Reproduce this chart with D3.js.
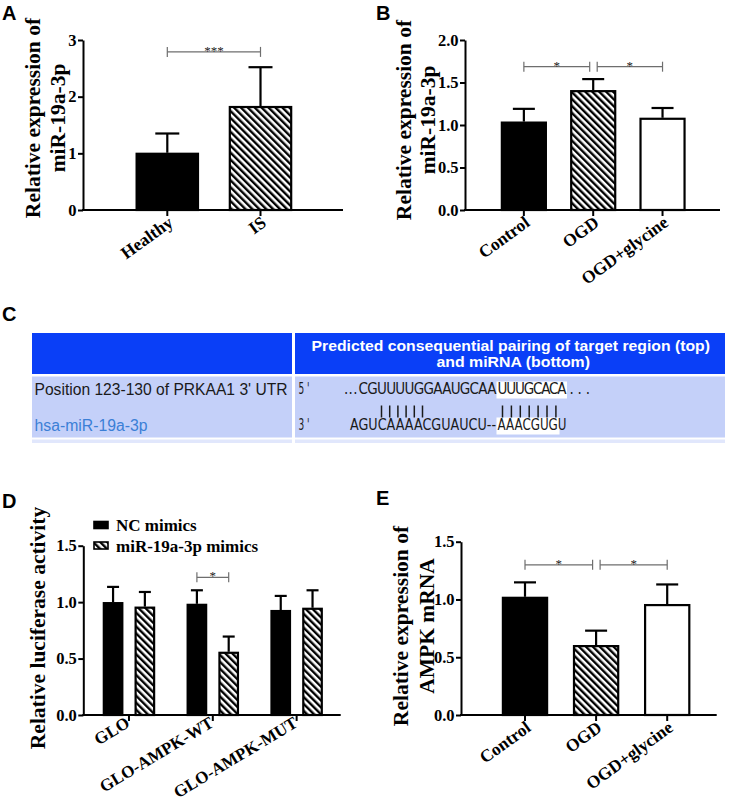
<!DOCTYPE html>
<html>
<head>
<meta charset="utf-8">
<script src="https://cdn.jsdelivr.net/npm/d3@7"></script>
<style>
  html, body { margin: 0; padding: 0; background: #fff; }
  svg { display: block; }
</style>
</head>
<body>
<svg id="fig" width="750" height="805"></svg>
<script>
// ---------------- DATA ----------------
// Panel A
const catsA = ["Healthy", "IS"];
const valsA = [1.01, 1.835];
const errA = [0.34, 0.685];
const ticksA = [0, 1, 2, 3];
const sigA = [{ from: 0, to: 1, level: 2.79, label: "***" }];

// Panel B
const catsB = ["Control", "OGD", "OGD+glycine"];
const valsB = [1.04, 1.41, 1.085];
const errB = [0.15, 0.13, 0.115];
const ticksB = [0, 0.5, 1.0, 1.5, 2.0];
const sigB = [{ from: 0, to: 1, level: 1.686, label: "*" }, { from: 1, to: 2, level: 1.686, label: "*" }];

// Panel C (TargetScan table)
const tableHeader = ["Predicted consequential pairing of target region (top)", "and miRNA (bottom)"];
const tableRowLabel = "Position 123-130 of PRKAA1 3' UTR";
const tableMirna = "hsa-miR-19a-3p";
const seqTop = ["...", "CGUUUUGGAAUGCAA", "UUUGCACA", "..."];
const seqBottom = ["AGUCAAAACGUAUCU--", "AAACGUGU"];
const pairGroups = [6, 7];

// Panel D
const catsD = ["GLO", "GLO-AMPK-WT", "GLO-AMPK-MUT"];
const seriesD = ["NC mimics", "miR-19a-3p mimics"];
const valsD_NC = [1.00, 0.985, 0.93];
const errD_NC = [0.135, 0.12, 0.125];
const valsD_mim = [0.96, 0.56, 0.95];
const errD_mim = [0.13, 0.135, 0.155];
const ticksD = [0, 0.5, 1.0, 1.5];
const sigD = [{ cat: 1, level: 1.22, label: "*" }];

// Panel E
const catsE = ["Control", "OGD", "OGD+glycine"];
const valsE = [1.023, 0.605, 0.96];
const errE = [0.125, 0.125, 0.17];
const ticksE = [0, 0.5, 1.0, 1.5];
const sigE = [{ from: 0, to: 1, level: 1.30, label: "*" }, { from: 1, to: 2, level: 1.30, label: "*" }];

// ---------------- STYLE ----------------
const SERIF = "'Liberation Serif','Times New Roman',serif";
const SANS = "'Liberation Sans',Arial,sans-serif";
const svg = d3.select("#fig");

const defs = svg.append("defs");
defs.append("pattern")
  .attr("id", "hatch")
  .attr("patternUnits", "userSpaceOnUse")
  .attr("width", 4.9).attr("height", 4.9)
  .attr("patternTransform", "rotate(-45)")
  .call(p => {
    p.append("rect").attr("width", 4.9).attr("height", 4.9).attr("fill", "#fff");
    p.append("line").attr("x1", 1.2).attr("y1", 0).attr("x2", 1.2).attr("y2", 4.9)
      .attr("stroke", "#000").attr("stroke-width", 2.4);
  });

function fillFor(kind) {
  return kind === "black" ? "#000" : kind === "hatch" ? "url(#hatch)" : "#fff";
}

function panelLetter(t, x, y) {
  svg.append("text").attr("x", x).attr("y", y).text(t)
    .attr("font-family", SANS).attr("font-weight", "bold").attr("font-size", 20).attr("fill", "#000");
}

function yAxis(g, y, x0, ticks, fmt) {
  const ax = d3.axisLeft(y).tickValues(ticks).tickFormat(fmt).tickSize(5).tickPadding(1.5).tickSizeOuter(0);
  const a = g.append("g").attr("transform", `translate(${x0},0)`).call(ax);
  a.select(".domain").attr("stroke", "#000").attr("stroke-width", 2);
  a.selectAll(".tick line").attr("stroke", "#000").attr("stroke-width", 2);
  a.selectAll(".tick text").attr("font-family", SERIF).attr("font-weight", "bold")
    .attr("font-size", 16.5).attr("fill", "#000");
  return a;
}

function xAxis(g, xPos, cats, y0, x0, x1, fs, ang, dx, dy) {
  g.append("line").attr("x1", x0 - 1).attr("x2", x1).attr("y1", y0).attr("y2", y0)
    .attr("stroke", "#000").attr("stroke-width", 2);
  cats.forEach(c => {
    const cx = xPos(c);
    g.append("line").attr("x1", cx).attr("x2", cx).attr("y1", y0).attr("y2", y0 + 6)
      .attr("stroke", "#000").attr("stroke-width", 2);
    g.append("text").text(c)
      .attr("transform", `translate(${cx + dx},${y0 + dy}) rotate(${ang})`)
      .attr("text-anchor", "end")
      .attr("font-family", SERIF).attr("font-weight", "bold").attr("font-size", fs).attr("fill", "#000");
  });
}

function yTitle(g, lines, baselines, cy) {
  lines.forEach((ln, i) => {
    g.append("text").text(ln)
      .attr("transform", `translate(${baselines[i]},${cy}) rotate(-90)`)
      .attr("text-anchor", "middle")
      .attr("font-family", SERIF).attr("font-weight", "bold").attr("font-size", 21.5).attr("fill", "#000");
  });
}

function bracket(g, xa, xb, yy, label) {
  const col = "#6e6e6e";
  g.append("line").attr("x1", xa).attr("x2", xb).attr("y1", yy).attr("y2", yy).attr("stroke", col).attr("stroke-width", 1.2);
  [xa, xb].forEach(xx => g.append("line").attr("x1", xx).attr("x2", xx).attr("y1", yy - 5).attr("y2", yy + 5)
    .attr("stroke", col).attr("stroke-width", 1.2));
  g.append("text").text(label).attr("x", (xa + xb) / 2).attr("y", yy + 3)
    .attr("text-anchor", "middle").attr("font-family", SERIF).attr("font-size", 13).attr("fill", "#222");
}

function bar(g, x, w, y, v, e, fill, cap) {
  const cx = x + w / 2;
  g.append("line").attr("x1", cx).attr("x2", cx).attr("y1", y(v)).attr("y2", y(v + e))
    .attr("stroke", "#000").attr("stroke-width", 2.2);
  g.append("line").attr("x1", cx - cap / 2).attr("x2", cx + cap / 2).attr("y1", y(v + e)).attr("y2", y(v + e))
    .attr("stroke", "#000").attr("stroke-width", 2.2);
  g.append("rect").attr("x", x + 1).attr("y", y(v) + 1)
    .attr("width", w - 2).attr("height", y(0) - y(v) - 1)
    .attr("fill", fillFor(fill)).attr("stroke", "#000").attr("stroke-width", 2.2);
}

function simplePanel(opt) {
  const g = svg.append("g");
  const y = d3.scaleLinear().domain(opt.domain).range([opt.y0, opt.y1]);
  const x = d3.scaleBand().domain(opt.cats).range(opt.xr).paddingInner(opt.pad).paddingOuter(opt.pad / 2);
  const center = c => x(c) + x.bandwidth() / 2;
  opt.cats.forEach((c, i) => bar(g, x(c), x.bandwidth(), y, opt.vals[i], opt.errs[i], opt.fills[i], opt.cap));
  xAxis(g, center, opt.cats, opt.y0, opt.ax, opt.xEnd, 17.5, -36, 7, 15);
  yAxis(g, y, opt.ax, opt.ticks, opt.fmt);
  opt.sig.forEach(s => {
    let xa = center(opt.cats[s.from]), xb = center(opt.cats[s.to]);
    if (opt.sig.length > 1) {
      if (s.from === 1) xa += 4;
      if (s.to === 1) xb -= 3.5;
    }
    bracket(g, xa, xb, y(s.level), s.label);
  });
  yTitle(g, opt.title, opt.titleX, opt.titleCY);
}

// ---------------- PANEL A ----------------
panelLetter("A", 2, 20);
simplePanel({
  cats: catsA, vals: valsA, errs: errA, fills: ["black", "hatch"],
  domain: [0, 3], y0: 210, y1: 40, xr: [120.7, 307.1], pad: 0.32, ax: 83, xEnd: 343,
  ticks: ticksA, fmt: d3.format("d"), sig: sigA, cap: 24,
  title: ["Relative expression of", "miR-19a-3p"], titleX: [40, 65], titleCY: 118
});

// ---------------- PANEL B ----------------
panelLetter("B", 376, 20);
simplePanel({
  cats: catsB, vals: valsB, errs: errB, fills: ["black", "hatch", "white"],
  domain: [0, 2], y0: 210, y1: 40, xr: [489.2, 697.2], pad: 0.336, ax: 465, xEnd: 720,
  ticks: ticksB, fmt: d3.format(".1f"), sig: sigB, cap: 22,
  title: ["Relative expression of", "miR-19a-3p"], titleX: [411, 435], titleCY: 120
});

// ---------------- PANEL C ----------------
panelLetter("C", 2, 321);
(function () {
  const g = svg.append("g");
  const L0 = 32, L1 = 292, R0 = 295, R1 = 725;
  const hTop = 333, hBot = 374, rTop = 376.5, rBot = 437.5;
  const headerBlue = "#0a3ff7", rowBlue = "#c4d0f9", stripBlue = "#e1e7fc";
  [[L0, L1], [R0, R1]].forEach(([a, b]) => {
    g.append("rect").attr("x", a).attr("y", hTop).attr("width", b - a).attr("height", hBot - hTop).attr("fill", headerBlue);
    g.append("rect").attr("x", a).attr("y", rTop).attr("width", b - a).attr("height", rBot - rTop).attr("fill", rowBlue);
    g.append("rect").attr("x", a).attr("y", 439.5).attr("width", b - a).attr("height", 3.5).attr("fill", stripBlue);
  });

  const hx = [[311.5, 710], [436.5, 590]];
  const hy = [351, 367];
  tableHeader.forEach((t, i) => {
    g.append("text").text(t).attr("x", hx[i][0]).attr("y", hy[i])
      .attr("textLength", hx[i][1] - hx[i][0]).attr("lengthAdjust", "spacingAndGlyphs")
      .attr("font-family", SANS).attr("font-weight", "bold").attr("font-size", 15.5).attr("fill", "#fff");
  });
  g.append("text").text(tableRowLabel).attr("x", 34.5).attr("y", 395)
    .attr("textLength", 253).attr("lengthAdjust", "spacingAndGlyphs")
    .attr("font-family", SANS).attr("font-size", 15.6).attr("fill", "#1a1a1a");
  g.append("text").text(tableMirna).attr("x", 34.5).attr("y", 431)
    .attr("textLength", 113).attr("lengthAdjust", "spacingAndGlyphs")
    .attr("font-family", SANS).attr("font-size", 15.6).attr("fill", "#3b7fd6");

  const seqFont = "'DejaVu Sans Condensed','DejaVu Sans',sans-serif";
  const topY = 394, botY = 430;
  [["5 '", topY], ["3 '", botY]].forEach(([t, yy]) => {
    g.append("text").text(t).attr("x", 298.5).attr("y", yy)
      .attr("textLength", 11).attr("lengthAdjust", "spacingAndGlyphs")
      .attr("font-family", seqFont).attr("font-size", 15).attr("fill", "#1a1a1a");
  });

  g.append("rect").attr("x", 496.5).attr("y", 381.5).attr("width", 70.5).attr("height", 17).attr("fill", "#fff");
  g.append("rect").attr("x", 496.5).attr("y", 417.5).attr("width", 63).attr("height", 17).attr("fill", "#fff");

  const topSpans = [[344, 357.5], [358.5, 496.5], [497.5, 566.5], [569.5, 590]];
  seqTop.forEach((s, i) => {
    g.append("text").text(s).attr("x", topSpans[i][0]).attr("y", topY)
      .attr("textLength", topSpans[i][1] - topSpans[i][0]).attr("lengthAdjust", "spacing")
      .attr("font-family", seqFont).attr("font-size", 15).attr("fill", "#1a1a1a");
  });
  const botSpans = [[350, 496], [497.5, 566.5]];
  seqBottom.forEach((s, i) => {
    g.append("text").text(s).attr("x", botSpans[i][0]).attr("y", botY)
      .attr("textLength", botSpans[i][1] - botSpans[i][0]).attr("lengthAdjust", "spacingAndGlyphs")
      .attr("font-family", seqFont).attr("font-size", 15).attr("fill", "#1a1a1a");
  });
  const groupStart = [381.5, 502.5], groupStep = [8.2, 8.9];
  pairGroups.forEach((n, gi) => {
    d3.range(n).forEach(k => {
      const xx = groupStart[gi] + k * groupStep[gi];
      g.append("line").attr("x1", xx).attr("x2", xx).attr("y1", 405.5).attr("y2", 417.5)
        .attr("stroke", "#1a1a1a").attr("stroke-width", 1.5);
    });
  });
})();

// ---------------- PANEL D ----------------
panelLetter("D", 2, 508);
(function () {
  const g = svg.append("g");
  const y = d3.scaleLinear().domain([0, 1.5]).range([715, 545.7]);
  const x0 = d3.scaleBand().domain(catsD).range([87.05, 338.55]).paddingInner(0.376).paddingOuter(0.188);
  const x1 = d3.scaleBand().domain(seriesD).range([0, x0.bandwidth()]).paddingInner(0.355).paddingOuter(0);
  const center = c => x0(c) + x0.bandwidth() / 2;
  catsD.forEach((c, i) => {
    bar(g, x0(c) + x1(seriesD[0]), x1.bandwidth(), y, valsD_NC[i], errD_NC[i], "black", 12);
    bar(g, x0(c) + x1(seriesD[1]), x1.bandwidth(), y, valsD_mim[i], errD_mim[i], "hatch", 12);
  });
  xAxis(g, center, catsD, 715, 83.3, 340.7, 17, -31, 2, 11);
  yAxis(g, y, 83.3, ticksD, d3.format(".1f"));
  sigD.forEach(s => {
    const c = catsD[s.cat];
    const xa = x0(c) + x1(seriesD[0]) + x1.bandwidth() / 2;
    const xb = x0(c) + x1(seriesD[1]) + x1.bandwidth() / 2;
    bracket(g, xa, xb, y(s.level), s.label);
  });
  yTitle(g, ["Relative luciferase activity"], [45], 628);
  const lg = g.append("g");
  seriesD.forEach((s, i) => {
    const ly = 521.5 + i * 20.5;
    lg.append("rect").attr("x", 94).attr("y", ly).attr("width", 14).attr("height", 7)
      .attr("fill", i === 0 ? "#000" : "url(#hatch)").attr("stroke", "#000").attr("stroke-width", 1.6);
    lg.append("text").text(s).attr("x", 116).attr("y", ly + 9.5)
      .attr("font-family", SERIF).attr("font-weight", "bold").attr("font-size", 17).attr("fill", "#000");
  });
})();

// ---------------- PANEL E ----------------
panelLetter("E", 376, 505);
simplePanel({
  cats: catsE, vals: valsE, errs: errE, fills: ["black", "hatch", "white"],
  domain: [0, 1.5], y0: 715, y1: 541.7, xr: [489.45, 702.75], pad: 0.35, ax: 461, xEnd: 716.7,
  ticks: ticksE, fmt: d3.format(".1f"), sig: sigE, cap: 22,
  title: ["Relative expression of", "AMPK mRNA"], titleX: [408, 434], titleCY: 626
});
</script>
</body>
</html>
